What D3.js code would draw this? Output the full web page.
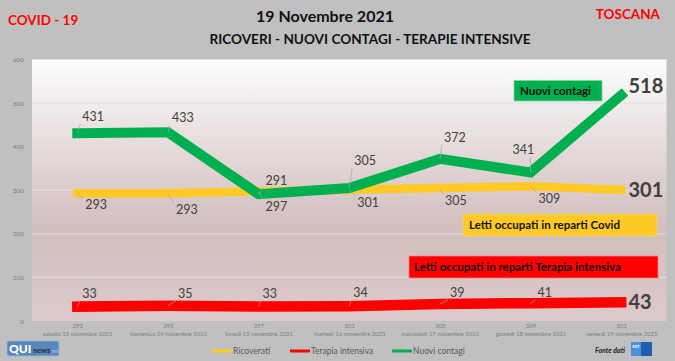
<!DOCTYPE html>
<html><head><meta charset="utf-8">
<script src="https://cdn.jsdelivr.net/npm/d3@7"></script>
<style>html,body{margin:0;padding:0;background:#c0c0c0;}svg{display:block;}</style>
</head><body>
<script>
// ---- data ----
const dates = ["sabato 13 novembre 2021","domenica 14 novembre 2021","lunedì 15 novembre 2021","martedì 16 novembre 2021","mercoledì 17 novembre 2021","giovedì 18 novembre 2021","venerdì 19 novembre 2021"];
const ricoverati = [293,293,297,301,305,309,301];
const terapiaIntensiva = [33,35,33,34,39,41,43];
const nuoviContagi = [431,433,291,305,372,341,518];
const yTicks = [0,100,200,300,400,500,600];
const seriesNames = ["Ricoverati","Terapia intensiva","Nuovi contagi"];

// label offsets (layout only)
const greenDx = [5,4,7,5,4,-18,4], greenDy = [-12,-10,-9,-23,-17,-18,-2];
const yellowDx = [8,8,7,8,5,8,4], yellowDy = [16,21,19,17,17,17,7];
const redDx = [5,10,4,4,10,7,4], redDy = [-9,-8,-9,-9,-7,-6,7];

const W=675,H=361;
const svg=d3.select("body").append("svg").attr("width",W).attr("height",H);
svg.append("rect").attr("width",W).attr("height",H).attr("fill","#c0c0c0");

const L=32,R=666.5,T=59.5,B=321;
const x=d3.scalePoint().domain(d3.range(dates.length)).range([L,R]).padding(0.5);
const y=d3.scaleLinear().domain([0,600]).range([B,T]);

const defs=svg.append("defs");
const g=defs.append("linearGradient").attr("id","bg").attr("x1",0).attr("y1",0).attr("x2",0).attr("y2",1);
g.append("stop").attr("offset","0%").attr("stop-color","#fdfdfd");
g.append("stop").attr("offset","35%").attr("stop-color","#e4d9d9");
g.append("stop").attr("offset","65%").attr("stop-color","#d3bebe");
g.append("stop").attr("offset","100%").attr("stop-color","#ddcaca");
svg.append("rect").attr("x",L).attr("y",T).attr("width",R-L).attr("height",B-T).attr("fill","url(#bg)");

// gridlines
svg.append("g").selectAll("line").data(yTicks.filter(d=>d>0&&d<600)).join("line")
  .attr("x1",L).attr("x2",R).attr("y1",d=>y(d)).attr("y2",d=>y(d))
  .attr("stroke","#e6e0e0").attr("stroke-width",1).attr("opacity",0.9);

// y axis labels
const yAxis=d3.axisLeft(y).tickValues(yTicks).tickSize(0).tickPadding(0);
const ya=svg.append("g").attr("transform",`translate(${L-8},0)`).call(yAxis);
ya.select(".domain").remove();
ya.selectAll("text").attr("font-family","Lato, sans-serif").attr("font-size",6.5).attr("fill","#7f7f7f");

// x axis labels (two rows)
const xAxis=d3.axisBottom(x).tickSize(0).tickFormat(i=>ricoverati[i]);
const xa=svg.append("g").attr("transform",`translate(0,${B})`).call(xAxis);
xa.select(".domain").remove();
xa.selectAll("text").attr("font-family","Lato, sans-serif").attr("font-size",6).attr("fill","#7f7f7f").attr("dy","0").attr("y",7);
xa.selectAll(".tick").append("text").text(i=>dates[i])
  .attr("y",15).attr("font-family","Lato, sans-serif").attr("font-size",6).attr("fill","#7f7f7f").attr("text-anchor","middle");

// lines
const line=d3.line().x((d,i)=>x(i)).y(d=>y(d));
function drawLine(data,color,w){
  svg.append("path").datum(data).attr("d",line).attr("fill","none").attr("stroke",color)
    .attr("stroke-width",w).attr("stroke-linejoin","miter").attr("stroke-linecap","square");
}
drawLine(ricoverati,"#ffc926",8.5);
drawLine(nuoviContagi,"#00b050",10);
drawLine(terapiaIntensiva,"#ff0000",10.5);

// data labels
function labels(data,dx,dy){
  const gg=svg.append("g");
  data.forEach((v,i)=>{
    const last=i===data.length-1;
    const px=x(i),py=y(v);
    const lx=px+dx[i], ly=py+dy[i];
    if(!last){
      const ty = dy[i]<0 ? ly+3 : ly-11;
      gg.append("path").attr("d",`M${px},${py} L${dx[i]<0?lx+18:lx-2},${ty}`)
        .attr("stroke","#a6a6a6").attr("stroke-width",0.7).attr("fill","none");
    }
    gg.append("text").attr("x",last?R-38:lx).attr("y",ly)
      .text(v).attr("font-family","Lato, sans-serif")
      .attr("font-size",last?20:12.5).attr("font-weight",last?"bold":"normal")
      .attr("fill","#404040");
  });
}
labels(nuoviContagi,greenDx,greenDy);
labels(ricoverati,yellowDx,yellowDy);
labels(terapiaIntensiva,redDx,redDy);

// annotation boxes
function box(x0,y0,w,h,fill,stroke,txt,tx){
  svg.append("rect").attr("x",x0).attr("y",y0).attr("width",w).attr("height",h).attr("fill",fill).attr("stroke",stroke).attr("stroke-width",0.8);
  svg.append("text").attr("x",tx).attr("y",y0+h/2+4).text(txt)
    .attr("font-family","Lato, sans-serif").attr("font-weight","bold").attr("font-size",11.5).attr("fill","#111");
}
box(514,80.5,88,20.5,"#00b050","#7fd6a0","Nuovi contagi",520);
box(463,214,194,22,"#ffc926","#e8d48a","Letti occupati in reparti Covid",469);
box(409,256,249,22,"#ff0000","#f08080","Letti occupati in reparti Terapia intensiva",414);

// titles
const tf="Lato, sans-serif";
svg.append("text").attr("x",8).attr("y",25).text("COVID - 19").attr("font-family",tf).attr("font-weight","bold").attr("font-size",13.5).attr("fill","#ff0000");
svg.append("text").attr("x",660).attr("y",19).attr("text-anchor","end").text("TOSCANA").attr("font-family",tf).attr("font-weight","bold").attr("font-size",13.5).attr("fill","#ff0000");
svg.append("text").attr("x",325).attr("y",22).attr("text-anchor","middle").text("19 Novembre 2021").attr("font-family",tf).attr("font-weight","bold").attr("font-size",16).attr("fill","#111");
svg.append("text").attr("x",370).attr("y",44).attr("text-anchor","middle").text("RICOVERI - NUOVI CONTAGI - TERAPIE INTENSIVE").attr("font-family",tf).attr("font-weight","bold").attr("font-size",13.6).attr("fill","#111");

// legend
const legColors=["#ffc926","#ff0000","#00b050"];
const legX=[212,290,392];
seriesNames.forEach((n,i)=>{
  svg.append("rect").attr("x",legX[i]).attr("y",349.5).attr("width",20).attr("height",3).attr("fill",legColors[i]);
  svg.append("text").attr("x",legX[i]+21).attr("y",354).text(n).attr("font-family",tf).attr("font-size",8.5).attr("fill","#595959");
});

// source
svg.append("text").attr("x",595).attr("y",353).text("Fonte dati").attr("font-family",tf).attr("font-style","italic").attr("font-weight","bold").attr("font-size",7).attr("fill","#222");
svg.append("rect").attr("x",631).attr("y",342).attr("width",10).attr("height",14).attr("fill","#4a90d9");
svg.append("rect").attr("x",641).attr("y",342).attr("width",11).attr("height",14).attr("fill","#1f5fae");
svg.append("text").attr("x",636).attr("y",348).attr("text-anchor","middle").text("SST").attr("font-family",tf).attr("font-weight","bold").attr("font-size",4.5).attr("fill","#fff");

// QUI news logo
svg.append("rect").attr("x",7).attr("y",341).attr("width",52).attr("height",15).attr("rx",2).attr("fill","#5b86b8").attr("stroke","#9bb6d6").attr("stroke-width",0.8);
svg.append("text").attr("x",9).attr("y",353).text("QUI").attr("font-family",tf).attr("font-weight","900").attr("font-size",12).attr("fill","#fff");
svg.append("text").attr("x",33).attr("y",353).text("news").attr("font-family",tf).attr("font-weight","bold").attr("font-size",7.5).attr("fill","#1c2d4a");
svg.append("text").attr("x",50).attr("y",353).text(".net").attr("font-family",tf).attr("font-style","italic").attr("font-size",5).attr("fill","#b8cce4");
</script>
</body></html>
